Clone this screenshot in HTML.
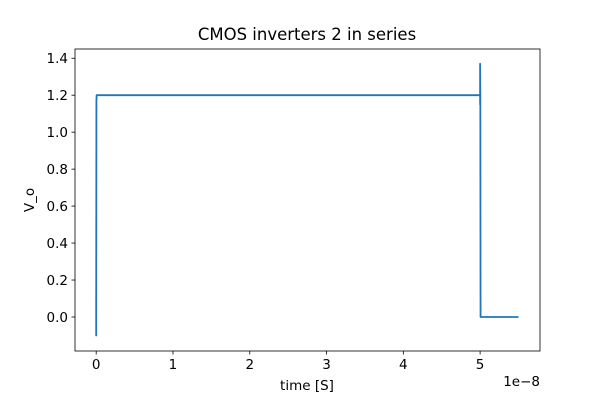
<!DOCTYPE html>
<html><head><meta charset="utf-8"><style>
body{margin:0;background:#fff}
svg text{font-family:"DejaVu Sans","Liberation Sans",sans-serif;fill:#000}
</style></head><body>
<svg id="chart" width="600" height="400" xmlns="http://www.w3.org/2000/svg">
<rect width="600" height="400" fill="#fff"/>
<text x="307" y="40" font-size="16.5" text-anchor="middle">CMOS inverters 2 in series</text>
<g id="axes"></g>
<text x="307" y="390" font-size="13.5" text-anchor="middle">time [S]</text>
<text x="540" y="386" font-size="13.5" text-anchor="end">1e−8</text>
<text x="34" y="200" font-size="13.5" text-anchor="middle" transform="rotate(-90 34 200)">V_o</text>
</svg>
<script>
const xTicks=[0,1,2,3,4,5];
const yTicks=[0.0,0.2,0.4,0.6,0.8,1.0,1.2,1.4];
const tValues=[0,0,0,0,0.003,0.006,5.0,5.0,5.0,5.0,5.0,5.0,5.003,5.006,5.5];
const vValues=[0,-0.1,0.11,-0.05,1.17,1.2,1.2,1.37,1.15,1.37,1.16,1.36,1.2,0.0,0.0];
const L=75,R=540,T=49,B=351;
const xMin=-0.276,xMax=5.78,yMin=-0.184,yMax=1.45;
const sx=v=>L+(v-xMin)/(xMax-xMin)*(R-L);
const sy=v=>B-(v-yMin)/(yMax-yMin)*(B-T);
const NS="http://www.w3.org/2000/svg";
const g=document.getElementById('axes');
function mk(tag,attrs){const e=document.createElementNS(NS,tag);for(const k in attrs)e.setAttribute(k,attrs[k]);g.appendChild(e);return e;}
let d='';
tValues.forEach((t,i)=>{d+=(i?'L':'M')+sx(t).toFixed(2)+','+sy(vValues[i]).toFixed(2);});
const line=mk('path',{d:d,fill:'none',stroke:'#1f77b4','stroke-width':1.8,'stroke-linejoin':'round'});


const frame=mk('rect',{x:L,y:T,width:R-L,height:B-T,fill:'none',stroke:'#000','stroke-width':0.8});


xTicks.forEach(v=>{
 const x=sx(v);
 const tk=mk('line',{x1:x,x2:x,y1:B,y2:B+3.5,stroke:'#000','stroke-width':0.8});
 
 
 const t=mk('text',{x:x,y:B+18,'font-size':13.5,'text-anchor':'middle'});t.textContent=v;
 
 
});
yTicks.forEach(v=>{
 const y=sy(v);
 const tk=mk('line',{x1:L-3.5,x2:L,y1:y,y2:y,stroke:'#000','stroke-width':0.8});
 
 
 const t=mk('text',{x:L-7,y:y+5,'font-size':13.5,'text-anchor':'end'});t.textContent=v.toFixed(1);
 
 
});
</script>
</body></html>
